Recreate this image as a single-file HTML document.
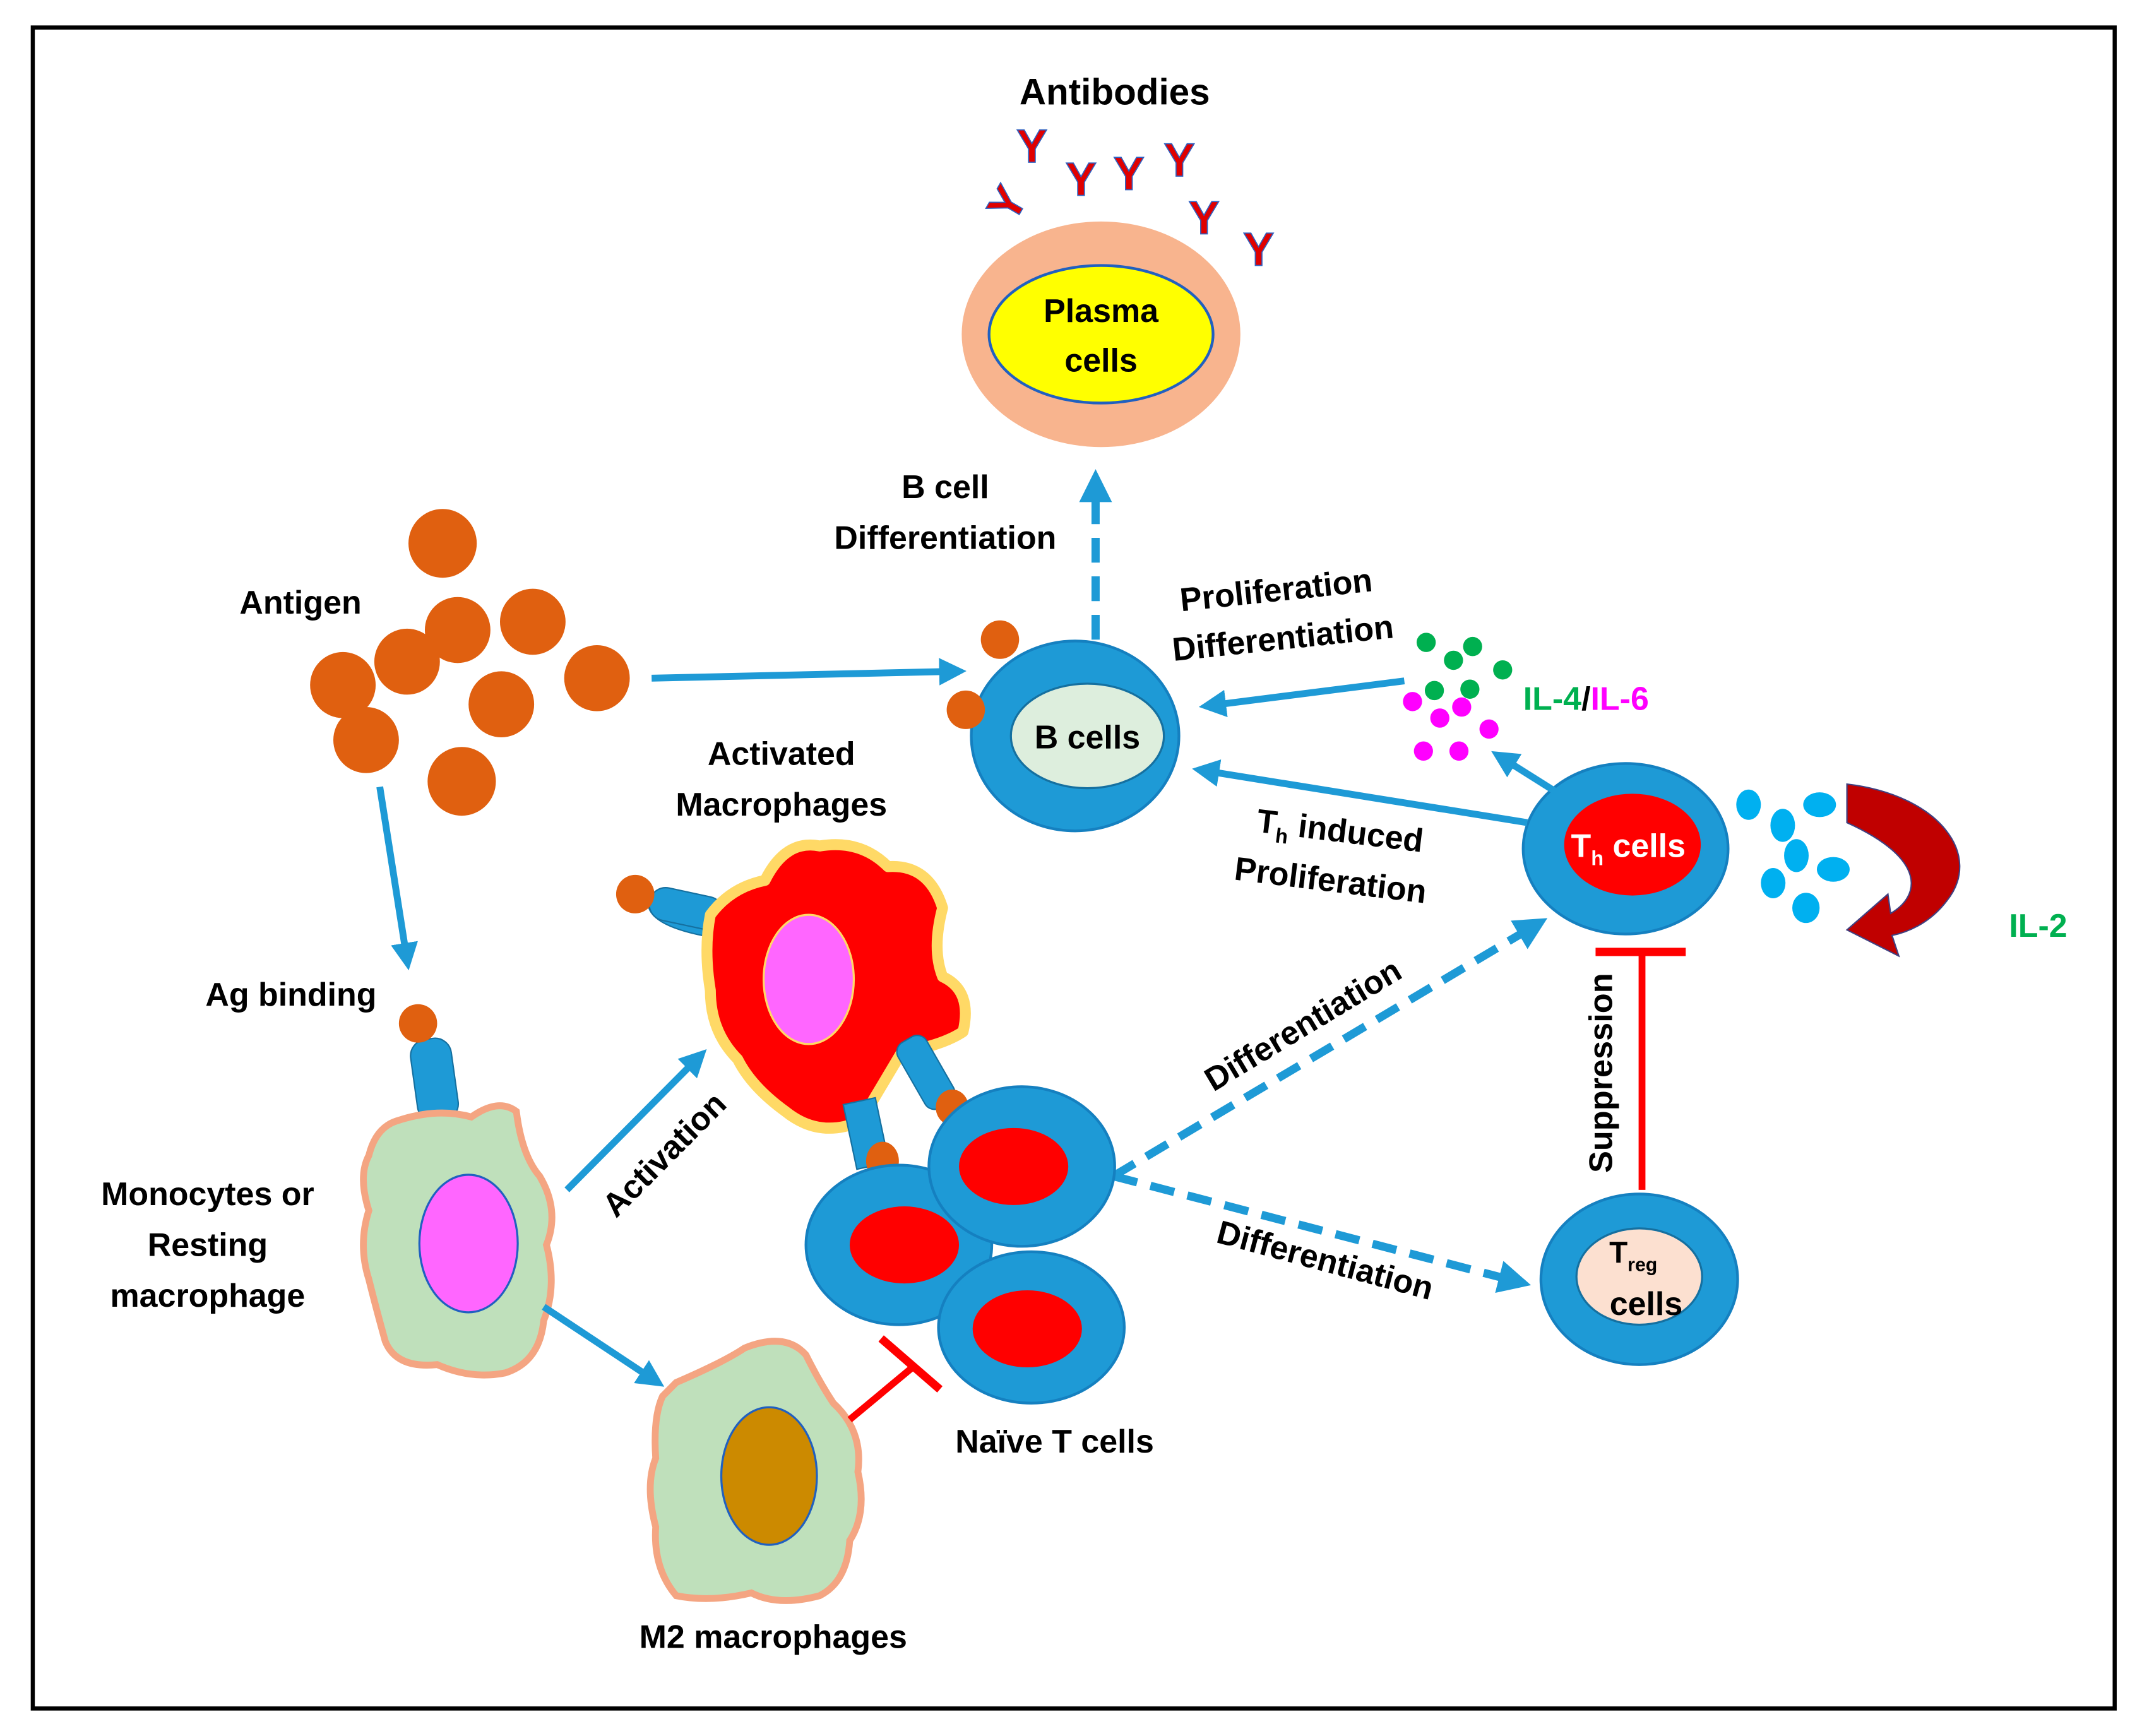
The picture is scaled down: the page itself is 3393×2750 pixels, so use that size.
<!DOCTYPE html>
<html><head><meta charset="utf-8"><style>html,body{margin:0;padding:0;background:#fff}svg{display:block}</style></head><body>
<svg width="3393" height="2750" viewBox="0 0 1568 1262" preserveAspectRatio="none" xmlns="http://www.w3.org/2000/svg" font-family="Liberation Sans, sans-serif" font-weight="bold">
<defs>
<marker id="ab" markerWidth="4" markerHeight="4" refX="2.5" refY="2" orient="auto" markerUnits="strokeWidth"><path d="M0,0 L4,2 L0,4 z" fill="#1E9AD6"/></marker>
<marker id="ar" markerWidth="4" markerHeight="4" refX="2.5" refY="2" orient="auto" markerUnits="strokeWidth"><path d="M0,0 L4,2 L0,4 z" fill="#C00000"/></marker>
</defs>
<rect x="24" y="20" width="1524" height="1222" fill="#fff" stroke="#000" stroke-width="3"/>
<text x="816" y="76" font-size="27" text-anchor="middle">Antibodies</text>
<g font-size="34" fill="#E00000" stroke="#3060C0" stroke-width="0.8" font-family="Liberation Sans, sans-serif">
<text x="744" y="118">Y</text><text x="780" y="142">Y</text><text x="815" y="138">Y</text><text x="852" y="128">Y</text><text x="870" y="170">Y</text><text x="910" y="193">Y</text>
<text x="728" y="160" transform="rotate(-60 738 150)">Y</text>
</g>
<ellipse cx="806" cy="243" rx="102" ry="82" fill="#F8B48E"/>
<ellipse cx="806" cy="243" rx="82" ry="50" fill="#FFFF00" stroke="#2060C0" stroke-width="2"/>
<text x="806" y="234" font-size="24" text-anchor="middle">Plasma</text>
<text x="806" y="270" font-size="24" text-anchor="middle">cells</text>
<text x="692" y="362" font-size="24" text-anchor="middle">B cell</text>
<text x="692" y="399" font-size="24" text-anchor="middle">Differentiation</text>
<line x1="802" y1="465" x2="802" y2="350" stroke="#1E9AD6" stroke-width="6" stroke-dasharray="18,10" marker-end="url(#ab)"/>
<g fill="#E06010">
<circle cx="324" cy="395" r="25"/><circle cx="390" cy="452" r="24"/><circle cx="335" cy="458" r="24"/><circle cx="298" cy="481" r="24"/><circle cx="437" cy="493" r="24"/><circle cx="251" cy="498" r="24"/><circle cx="367" cy="512" r="24"/><circle cx="268" cy="538" r="24"/><circle cx="338" cy="568" r="25"/>
</g>
<text x="220" y="446" font-size="24" text-anchor="middle">Antigen</text>
<line x1="477" y1="493" x2="700" y2="488" stroke="#1E9AD6" stroke-width="5" marker-end="url(#ab)"/>
<ellipse cx="787" cy="535" rx="76" ry="69" fill="#1E9AD6" stroke="#1580C0" stroke-width="2"/>
<ellipse cx="796" cy="535" rx="56" ry="38" fill="#DDEEDD" stroke="#1570A0" stroke-width="1.5"/>
<text x="796" y="544" font-size="24" text-anchor="middle">B cells</text>
<circle cx="732" cy="465" r="14" fill="#E06010"/><circle cx="707" cy="516" r="14" fill="#E06010"/>
<text x="935" y="437" font-size="24" text-anchor="middle" transform="rotate(-6 935 437)">Proliferation</text>
<text x="940" y="472" font-size="24" text-anchor="middle" transform="rotate(-6 940 472)">Differentiation</text>
<line x1="1028" y1="495" x2="885" y2="513" stroke="#1E9AD6" stroke-width="5" marker-end="url(#ab)"/>
<g fill="#00B050"><circle cx="1044" cy="467" r="7"/><circle cx="1064" cy="480" r="7"/><circle cx="1078" cy="470" r="7"/><circle cx="1100" cy="487" r="7"/><circle cx="1050" cy="502" r="7"/><circle cx="1076" cy="501" r="7"/></g>
<g fill="#FF00FF"><circle cx="1034" cy="510" r="7"/><circle cx="1054" cy="522" r="7"/><circle cx="1070" cy="514" r="7"/><circle cx="1090" cy="530" r="7"/><circle cx="1042" cy="546" r="7"/><circle cx="1068" cy="546" r="7"/></g>
<text x="1115" y="516" font-size="24"><tspan fill="#00B050">IL-4</tspan><tspan fill="#000">/</tspan><tspan fill="#FF00FF">IL-6</tspan></text>
<ellipse cx="1190" cy="617" rx="75" ry="62" fill="#1E9AD6" stroke="#1580C0" stroke-width="2"/>
<ellipse cx="1195" cy="614" rx="50" ry="37" fill="#FF0000"/>
<text x="1150" y="623" font-size="24" fill="#fff">T<tspan font-size="15" dy="6">h</tspan><tspan dy="-6"> cells</tspan></text>
<line x1="1138" y1="575" x2="1098" y2="550" stroke="#1E9AD6" stroke-width="5" marker-end="url(#ab)"/>
<line x1="1118" y1="598" x2="880" y2="560" stroke="#1E9AD6" stroke-width="5" marker-end="url(#ab)"/>
<text x="980" y="612" font-size="24" text-anchor="middle" transform="rotate(7 980 612)">T<tspan font-size="15" dy="6">h</tspan><tspan dy="-6"> induced</tspan></text>
<text x="973" y="648" font-size="24" text-anchor="middle" transform="rotate(7 973 648)">Proliferation</text>
<g fill="#00B0F0"><ellipse cx="1280" cy="585" rx="9" ry="11"/><ellipse cx="1305" cy="600" rx="9" ry="12"/><ellipse cx="1332" cy="585" rx="12" ry="9"/><ellipse cx="1315" cy="622" rx="9" ry="12"/><ellipse cx="1342" cy="632" rx="12" ry="9"/><ellipse cx="1298" cy="642" rx="9" ry="11"/><ellipse cx="1322" cy="660" rx="10" ry="11"/></g>
<path d="M1352,570 C1420,578 1452,622 1425,655 C1412,672 1395,678 1385,680 L1390,695 L1352,676 L1382,650 L1384,664 C1405,652 1412,625 1352,598 Z" fill="#C00000" stroke="#404080" stroke-width="1"/>
<text x="1492" y="681" font-size="24" fill="#00B050" text-anchor="middle">IL-2</text>
<line x1="1202" y1="865" x2="1202" y2="692" stroke="#FF0000" stroke-width="5"/>
<line x1="1168" y1="692" x2="1234" y2="692" stroke="#FF0000" stroke-width="6"/>
<text x="1180" y="780" font-size="24" text-anchor="middle" transform="rotate(-90 1180 780)">Suppression</text>
<ellipse cx="1200" cy="930" rx="72" ry="62" fill="#1E9AD6" stroke="#1580C0" stroke-width="2"/>
<ellipse cx="1200" cy="928" rx="46" ry="35" fill="#FCE0D0" stroke="#1570A0" stroke-width="1.5"/>
<text x="1178" y="918" font-size="22">T<tspan font-size="14" dy="6">reg</tspan></text>
<text x="1205" y="956" font-size="24" text-anchor="middle">cells</text>
<line x1="815" y1="855" x2="1125" y2="672" stroke="#1E9AD6" stroke-width="6" stroke-dasharray="18,10" marker-end="url(#ab)"/>
<line x1="815" y1="855" x2="1112" y2="932" stroke="#1E9AD6" stroke-width="6" stroke-dasharray="18,10" marker-end="url(#ab)"/>
<text x="958" y="752" font-size="24" text-anchor="middle" transform="rotate(-31 958 752)">Differentiation</text>
<text x="968" y="924" font-size="24" text-anchor="middle" transform="rotate(15 968 924)">Differentiation</text>
<!-- activated macrophage -->
<path d="M490,652 Q478,650 475,660 Q480,675 525,682 Z" fill="#1E9AD6" stroke="#1570A0"/>
<rect x="475" y="648" width="55" height="24" rx="12" fill="#1E9AD6" stroke="#1570A0" transform="rotate(12 500 660)"/>
<circle cx="465" cy="650" r="14" fill="#E06010"/>
<path d="M560,640 Q575,610 600,615 Q630,610 650,630 Q680,628 690,660 Q682,690 690,710 Q712,720 705,750 Q690,760 660,765 Q645,790 630,815 Q600,828 575,808 Q550,790 540,770 Q520,750 520,720 Q515,690 520,665 Q535,645 560,640 Z" fill="#FF0000" stroke="#FFD966" stroke-width="8" stroke-linejoin="round"/>
<ellipse cx="592" cy="712" rx="33" ry="47" fill="#FF66FF" stroke="#FFD966" stroke-width="1.5"/>
<rect x="622" y="800" width="24" height="48" fill="#1E9AD6" stroke="#1570A0" transform="rotate(-12 634 824)"/>
<ellipse cx="646" cy="844" rx="12" ry="14" fill="#E06010"/>
<rect x="666" y="752" width="24" height="55" rx="8" fill="#1E9AD6" stroke="#1570A0" transform="rotate(-30 678 780)"/>
<ellipse cx="697" cy="805" rx="12" ry="13" fill="#E06010"/>
<text x="572" y="556" font-size="24" text-anchor="middle">Activated</text>
<text x="572" y="593" font-size="24" text-anchor="middle">Macrophages</text>
<!-- naive T cells -->
<ellipse cx="658" cy="905" rx="68" ry="58" fill="#1E9AD6" stroke="#1580C0" stroke-width="2"/>
<ellipse cx="662" cy="905" rx="40" ry="28" fill="#FF0000"/>
<ellipse cx="755" cy="965" rx="68" ry="55" fill="#1E9AD6" stroke="#1580C0" stroke-width="2"/>
<ellipse cx="752" cy="966" rx="40" ry="28" fill="#FF0000"/>
<ellipse cx="748" cy="848" rx="68" ry="58" fill="#1E9AD6" stroke="#1580C0" stroke-width="2"/>
<ellipse cx="742" cy="848" rx="40" ry="28" fill="#FF0000"/>
<text x="772" y="1056" font-size="24" text-anchor="middle">Naïve  T cells</text>
<!-- activation -->
<line x1="415" y1="865" x2="512" y2="768" stroke="#1E9AD6" stroke-width="5" marker-end="url(#ab)"/>
<text x="492" y="845" font-size="24" text-anchor="middle" transform="rotate(-45 492 845)">Activation</text>
<!-- monocyte -->
<rect x="303" y="755" width="30" height="60" rx="12" fill="#1E9AD6" stroke="#1570A0" transform="rotate(-8 318 785)"/>
<circle cx="306" cy="744" r="14" fill="#E06010"/>
<path d="M290,815 Q320,805 345,812 Q365,798 378,808 Q382,840 395,855 Q410,880 400,905 Q408,935 398,960 Q395,990 370,998 Q345,1003 320,992 Q290,995 282,975 Q275,950 270,930 Q262,905 270,880 Q262,855 270,840 Q275,820 290,815 Z" fill="#BFE0BB" stroke="#F4A582" stroke-width="5"/>
<ellipse cx="343" cy="904" rx="36" ry="50" fill="#FF66FF" stroke="#2060C0" stroke-width="1.5"/>
<text x="213" y="731" font-size="24" text-anchor="middle">Ag binding</text>
<line x1="278" y1="572" x2="298" y2="698" stroke="#1E9AD6" stroke-width="5" marker-end="url(#ab)"/>
<text x="152" y="876" font-size="24" text-anchor="middle">Monocytes or</text>
<text x="152" y="913" font-size="24" text-anchor="middle">Resting</text>
<text x="152" y="950" font-size="24" text-anchor="middle">macrophage</text>
<line x1="398" y1="950" x2="480" y2="1004" stroke="#1E9AD6" stroke-width="5" marker-end="url(#ab)"/>
<!-- M2 -->
<path d="M495,1005 Q530,990 545,980 Q575,968 590,985 Q600,1005 610,1020 Q632,1040 628,1070 Q635,1100 622,1120 Q620,1150 600,1160 Q570,1168 550,1158 Q520,1165 495,1160 Q478,1140 480,1110 Q472,1080 480,1060 Q478,1030 485,1015 Z" fill="#BFE0BB" stroke="#F4A582" stroke-width="5"/>
<ellipse cx="563" cy="1073" rx="35" ry="50" fill="#CC8A00" stroke="#2060C0" stroke-width="1.5"/>
<line x1="622" y1="1032" x2="668" y2="994" stroke="#FF0000" stroke-width="5"/>
<line x1="645" y1="973" x2="688" y2="1010" stroke="#FF0000" stroke-width="6"/>
<text x="566" y="1198" font-size="24" text-anchor="middle">M2 macrophages</text>
</svg>
</body></html>
